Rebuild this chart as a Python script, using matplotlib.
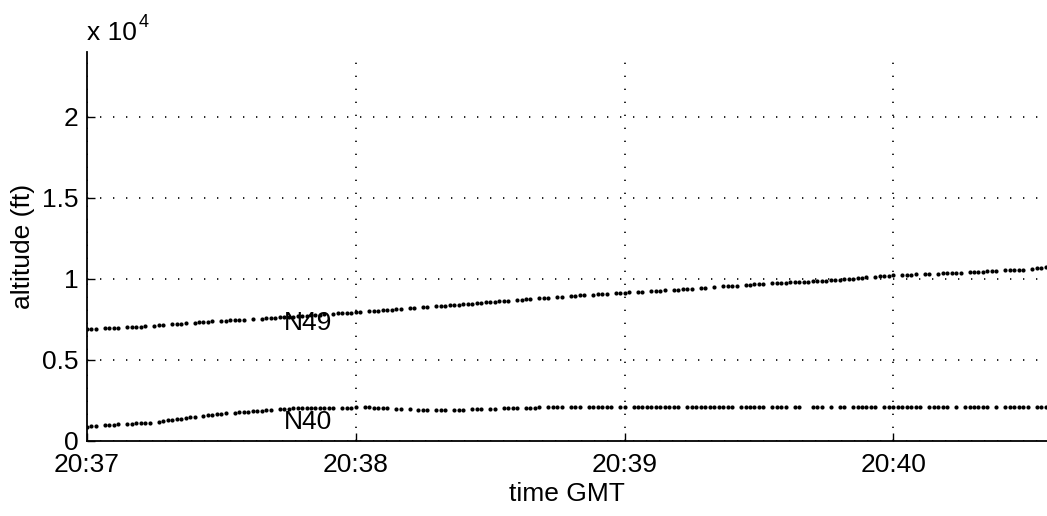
import numpy as np
import matplotlib
matplotlib.use("Agg")
import matplotlib.pyplot as plt

plt.rcParams["font.family"] = ["Liberation Sans", "DejaVu Sans"]

# samples are 1 s apart, starting at 20:37:00 GMT; None = missing sample
SAMPLE_DT = 1.0

n49_alt = [
    6910, 6920, 6930, None, 6950, 6960, 6980, 6990, None, 7010,
    7020, 7040, 7060, 7080, None, 7120, 7140, 7160, None, 7200,
    7220, 7240, 7260, None, 7300, 7320, 7340, 7360, 7380, None,
    7420, 7430, 7450, 7460, 7480, 7490, None, 7520, None, 7550,
    7560, 7580, 7600, 7620, 7640, 7660, 7680, 7700, 7710, 7730,
    7750, 7770, 7790, 7810, None, 7850, 7870, 7890, 7900, 7920,
    7940, 7960, None, 8000, 8020, 8040, 8060, 8080, 8100, 8120,
    8140, None, 8180, 8200, None, 8240, 8270, None, 8310, 8330,
    8350, 8370, 8400, 8420, 8440, 8460, 8480, 8500, 8530, 8550,
    8580, 8600, 8620, 8640, 8660, None, 8700, 8720, 8740, 8760,
    None, 8800, 8820, 8840, None, 8880, 8900, None, 8940, 8960,
    8980, 9000, None, 9030, 9050, 9070, 9090, None, 9120, 9140,
    9150, 9170, None, 9200, 9220, None, 9250, 9260, 9280, 9300,
    None, 9330, 9340, 9360, 9380, 9400, None, 9440, 9460, None,
    9500, None, 9540, 9560, 9580, 9590, None, 9630, 9650, 9660,
    9680, 9690, None, 9720, 9740, 9750, 9770, 9780, 9800, 9810,
    9830, 9840, 9860, 9870, 9890, 9900, 9920, 9940, 9960, 9980,
    10000, 10020, 10050, 10070, 10090, None, 10140, 10160, 10180, 10210,
    10230, None, 10250, 10260, 10270, 10280, None, 10300, 10310, None,
    10330, 10340, 10350, 10360, 10370, 10380, None, 10410, 10420, 10430,
    10440, 10460, 10470, 10490, None, 10520, 10530, 10550, 10560, 10580,
    None, 10620, 10650, 10690, 10720,
]

n40_alt = [
    860, 900, 930, None, 990, 1000, 1010, 1020, None, 1050,
    1070, 1090, 1100, 1120, 1140, None, 1190, 1230, 1270, 1300,
    1330, 1380, 1430, 1470, 1500, None, 1560, 1590, 1620, 1650,
    1680, 1700, None, 1740, 1760, 1790, 1810, 1840, 1860, 1880,
    1900, 1920, None, 1960, 1980, 2000, 2010, 2020, 2030, 2040,
    2040, 2050, 2050, 2050, 2060, 2060, None, 2060, 2060, 2060,
    2070, None, 2080, 2070, 2060, 2050, 2040, 2020, None, 1990,
    1980, None, 1960, None, 1940, 1940, 1930, None, 1920, 1920,
    1920, None, 1920, 1930, 1930, None, 1950, 1960, 1970, None,
    1980, 1990, None, 2010, 2020, 2030, 2040, None, 2050, 2060,
    2060, 2070, None, 2080, 2080, 2080, 2090, None, 2090, 2100,
    2100, None, 2100, 2100, 2100, 2100, 2110, 2110, None, 2110,
    2110, None, 2110, 2110, 2110, 2110, 2110, 2110, 2110, 2110,
    2110, 2110, 2110, None, 2110, 2110, 2110, 2110, 2110, 2110,
    2110, 2110, 2110, 2110, 2110, None, 2110, 2110, 2110, 2110,
    2110, 2110, None, 2110, 2110, 2110, 2110, None, 2110, 2110,
    None, None, 2110, 2110, 2110, None, 2110, None, 2110, 2110,
    None, 2110, 2110, 2110, 2110, 2110, 2110, None, 2110, 2110,
    2110, 2110, 2110, 2100, 2100, 2100, 2100, None, 2100, 2100,
    2100, 2100, 2100, None, 2100, None, 2090, 2090, 2090, 2090,
    2090, 2090, None, 2090, None, 2090, 2090, 2090, 2090, 2080,
    2080, None, 2080, 2080, 2080,
]

tick_secs   = [0, 60, 120, 180]
tick_labels = ["20:37", "20:38", "20:39", "20:40"]
y_ticks     = [0, 5000, 10000, 15000, 20000]
y_labels    = ["0", "0.5", "1", "1.5", "2"]

# aircraft label positions (time s, altitude ft)
labels = [("N49", 44, 7300), ("N40", 44, 1200)]

FS = 19


def to_array(vals):
    return np.array([np.nan if v is None else v for v in vals], dtype=float)


fig = plt.figure(figsize=(10.47, 5.16), dpi=100)
ax = fig.add_axes([87 / 1047, 75 / 516, 1 - 87 / 1047, 389 / 516])

for series in (n49_alt, n40_alt):
    y = to_array(series)
    t = np.arange(len(y)) * SAMPLE_DT
    ax.plot(t, y, linestyle="none", marker="o", markersize=3.0,
            color="black", markeredgewidth=0)

for name, tx, ty in labels:
    ax.text(tx, ty, name, fontsize=FS, ha="left", va="center")

ax.set_xlim(0, 214.3)
ax.set_ylim(0, 24000)
ax.set_xticks(tick_secs)
ax.set_xticklabels(tick_labels)
ax.set_yticks(y_ticks)
ax.set_yticklabels(y_labels)

ax.grid(True, color="black", linewidth=1.2, linestyle=(0, (0.8, 7.0)))
ax.tick_params(direction="in", length=6, width=1, labelsize=FS, pad=6)
ax.tick_params(axis="x", pad=9)

for side in ("top", "right"):
    ax.spines[side].set_visible(False)
for side in ("left", "bottom"):
    ax.spines[side].set_linewidth(1.3)

ax.set_xlabel("time GMT", fontsize=FS, labelpad=3)
ax.set_ylabel("altitude (ft)", fontsize=FS, labelpad=5)

fig.text(87 / 1047, 1 - 40 / 516, "x 10", fontsize=FS, ha="left", va="baseline")
fig.text(139 / 1047, 1 - 27 / 516, "4", fontsize=13, ha="left", va="baseline")

fig.savefig("out.png", dpi=100)
